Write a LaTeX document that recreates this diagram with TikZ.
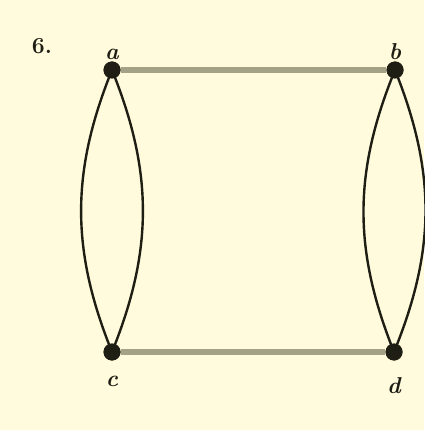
\documentclass[tikz,border=0pt]{standalone}
\usepackage{tikz}
\usetikzlibrary{positioning}

\definecolor{paper}{HTML}{FFFBDC}
\definecolor{rung}{HTML}{A4A286}
\definecolor{ink}{HTML}{1E1E14}

\begin{document}
\begin{tikzpicture}[
    x=1pt, y=-1pt,
    vertex/.style={
        circle,
        fill=ink,
        inner sep=0pt,
        minimum size=17pt
    },
    vlabel/.style={
        font=\fontsize{23}{26}\selectfont\bfseries\itshape,
        text=ink,
        inner sep=1pt
    },
    rungedge/.style={
        draw=rung,
        line width=5.5pt
    },
    lensedge/.style={
        draw=ink,
        line width=2.4pt
    }
]

    % Background and bounds
    \fill[paper] (0,0) rectangle (424,430);
    \useasboundingbox (0,0) rectangle (424,430);

    % Vertices
    \node[vertex] (a) at (112,70) {};
    \node[vertex] (b) at (395,70) {};
    \node[vertex] (c) at (112,352) {};
    \node[vertex] (d) at (394,352) {};

    % Labels
    \node[vlabel, font=\fontsize{23}{26}\selectfont\bfseries] (lbl6) at (42,46) {6.};
    \node[vlabel, above=0pt of a] (la) {a};
    \node[vlabel, above=0pt of b] (lb) {b};
    \node[vlabel, below=14pt of c] (lc) {c};
    \node[vlabel, below=16pt of d] (ld) {d};

    % Horizontal edges
    \draw[rungedge] (a) -- (b);
    \draw[rungedge] (c) -- (d);

    % Double edges
    \draw[lensedge] (a.center) to[bend right=22] (c.center);
    \draw[lensedge] (a.center) to[bend left=22] (c.center);
    \draw[lensedge] (b.center) to[bend right=22] (d.center);
    \draw[lensedge] (b.center) to[bend left=22] (d.center);

    % Dots on top
    \foreach \v in {a,b,c,d}
        \fill[ink] (\v) circle (8.5pt);

\end{tikzpicture}
\end{document}
